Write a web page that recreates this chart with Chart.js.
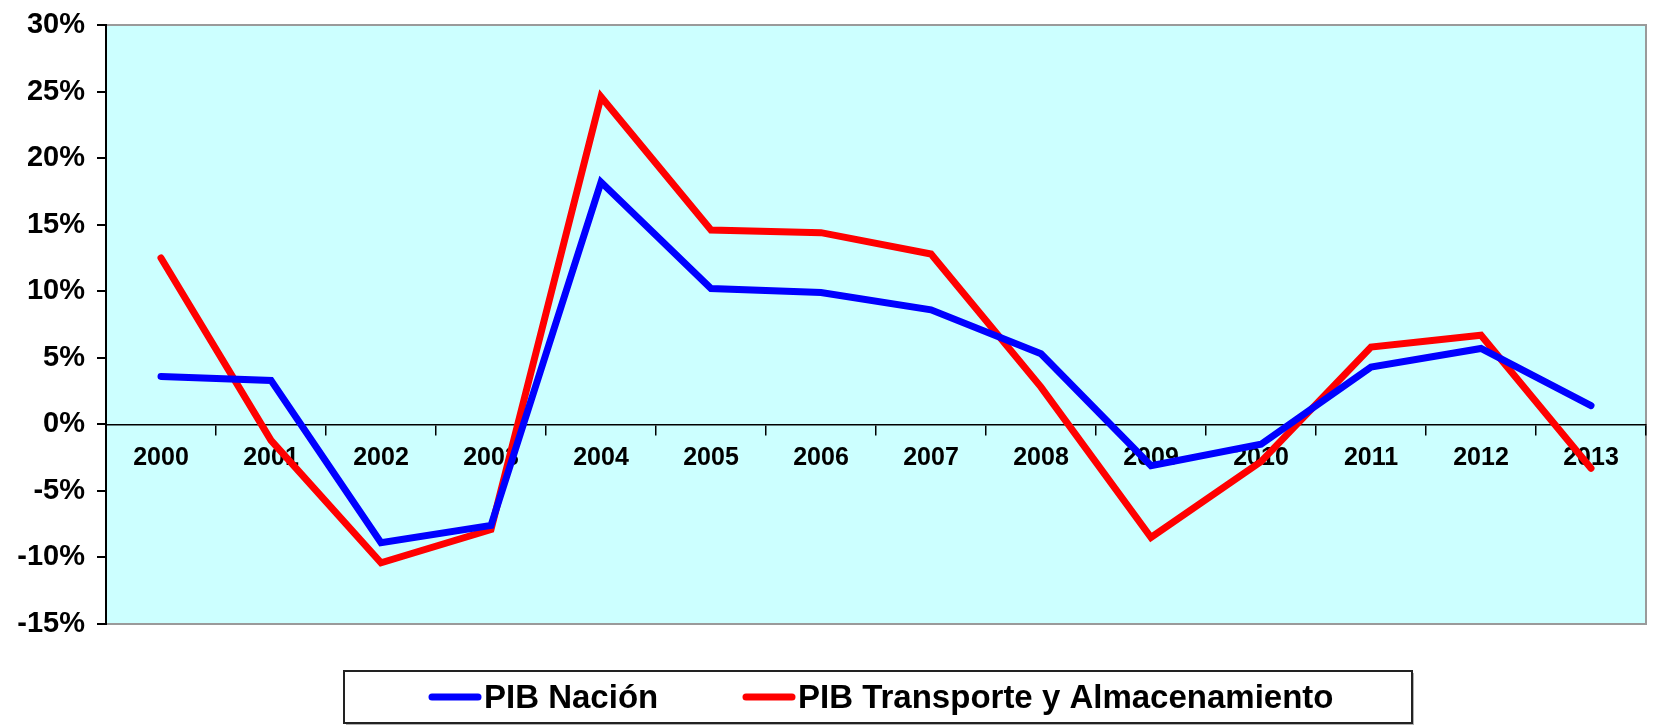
<!DOCTYPE html>
<html>
<head>
<meta charset="utf-8">
<script src="https://cdn.jsdelivr.net/npm/chart.js@4"></script>
<style>
  html, body { margin:0; padding:0; background:#fff; }
  #wrap { width:1653px; height:728px; }
</style>
</head>
<body>
<div id="wrap"><canvas id="pibChart"></canvas></div>
<script>
// values (% growth)
const years = ['2000','2001','2002','2003','2004','2005','2006','2007','2008','2009','2010','2011','2012','2013'];
const pibNacion = [3.6, 3.3, -8.9, -7.6, 18.2, 10.2, 9.9, 8.6, 5.3, -3.1, -1.5, 4.3, 5.7, 1.4];
const pibTransporte = [12.5, -1.2, -10.4, -7.9, 24.6, 14.6, 14.4, 12.8, 2.8, -8.5, -2.8, 5.8, 6.7, -3.3];
const seriesNames = ['PIB Nación', 'PIB Transporte y Almacenamiento'];
const seriesColors = ['#0000ff', '#ff0000'];

const FONT = '"Liberation Sans", Arial, sans-serif';

// cyan plot background + grey frame
const plotFrame = {
  id: 'plotFrame',
  beforeDraw(chart){
    const {ctx, chartArea:a} = chart;
    ctx.save();
    ctx.fillStyle = '#ccffff';
    ctx.fillRect(a.left, a.top, a.width, a.height);
    ctx.strokeStyle = '#9a9a9a';
    ctx.lineWidth = 2;
    ctx.beginPath();
    ctx.moveTo(a.left, a.top);
    ctx.lineTo(a.right, a.top);
    ctx.lineTo(a.right, a.bottom);
    ctx.lineTo(a.left, a.bottom);
    ctx.stroke();
    ctx.restore();
  }
};

// boxed legend under the plot
const boxLegend = {
  id: 'boxLegend',
  afterDraw(chart){
    const ctx = chart.ctx;
    const bx = 344, by = 671, bw = 1068, bh = 52;
    const cy = by + bh/2;
    ctx.save();
    ctx.fillStyle = '#b0b0b0';
    ctx.fillRect(bx + 2, by + bh, bw, 2);
    ctx.fillRect(bx + bw, by + 2, 2, bh);
    ctx.fillStyle = '#fff';
    ctx.fillRect(bx, by, bw, bh);
    ctx.strokeStyle = '#222';
    ctx.lineWidth = 2;
    ctx.strokeRect(bx, by, bw, bh);

    const starts = [432, 746];
    ctx.font = 'bold 33px ' + FONT;
    ctx.textBaseline = 'middle';
    chart.data.datasets.forEach((ds, i) => {
      const x = starts[i];
      ctx.strokeStyle = ds.borderColor;
      ctx.lineWidth = 7;
      ctx.lineCap = 'round';
      ctx.beginPath();
      ctx.moveTo(x, cy);
      ctx.lineTo(x + 46, cy);
      ctx.stroke();
      ctx.fillStyle = '#000';
      ctx.fillText(ds.label, x + 52, cy + 2);
    });
    ctx.restore();
  }
};

new Chart(document.getElementById('pibChart'), {
  type: 'line',
  data: {
    labels: years,
    datasets: [
      { label: seriesNames[0], data: pibNacion, borderColor: seriesColors[0], backgroundColor: seriesColors[0] },
      { label: seriesNames[1], data: pibTransporte, borderColor: seriesColors[1], backgroundColor: seriesColors[1] }
    ]
  },
  options: {
    responsive: true,
    maintainAspectRatio: false,
    animation: false,
    layout: { padding: { top: 25, right: 7, bottom: 104, left: 0 } },
    elements: {
      line: { borderWidth: 7, tension: 0, borderCapStyle: 'round', borderJoinStyle: 'miter' },
      point: { radius: 0, hoverRadius: 0 }
    },
    plugins: { legend: { display: false }, tooltip: { enabled: false } },
    scales: {
      x: {
        position: { y: 0 },
        offset: true,
        grid: { offset: true, drawOnChartArea: false, tickLength: 10, color: '#000', lineWidth: 1.5 },
        border: { color: '#000', width: 1.5 },
        ticks: { color: '#000', font: { family: FONT, size: 25, weight: 'bold' }, padding: 9, maxRotation: 0, autoSkip: false },
        afterFit(s){ s.height = 0; }
      },
      y: {
        min: -15,
        max: 30,
        ticks: { stepSize: 5, callback: v => v + '%', color: '#000', font: { family: FONT, size: 29, weight: 'bold' }, padding: 12 },
        grid: { drawOnChartArea: false, tickLength: 9, color: '#000', lineWidth: 2 },
        border: { color: '#000', width: 2 },
        afterFit(s){ s.width = 106; s.paddingTop = 10; s.paddingBottom = 10; }
      }
    }
  },
  plugins: [plotFrame, boxLegend]
});
</script>
</body>
</html>
